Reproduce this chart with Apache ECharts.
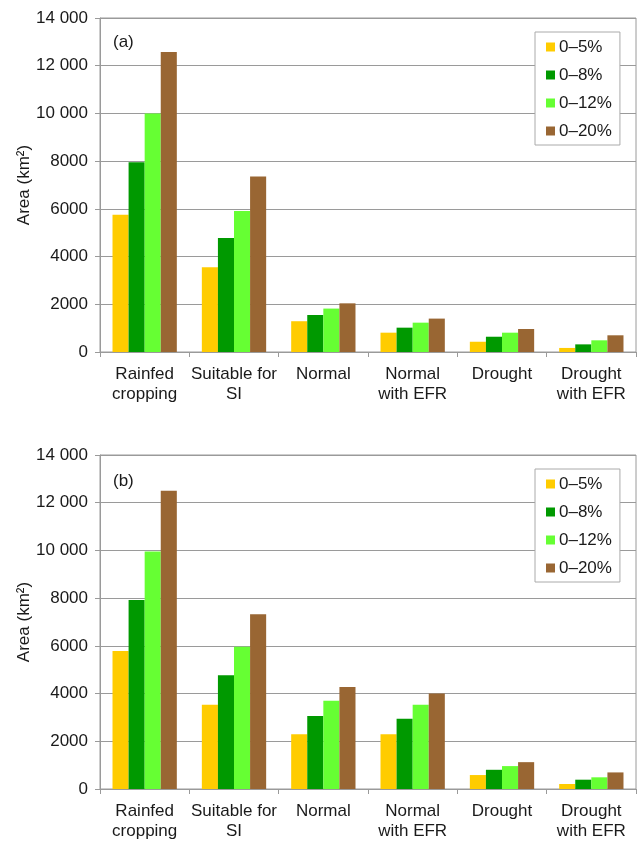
<!DOCTYPE html>
<html>
<head>
<meta charset="utf-8">
<script src="https://cdn.jsdelivr.net/npm/echarts@6/dist/echarts.min.js"></script>
<style>html,body{margin:0;padding:0;background:#fff;}#c{width:638px;height:841px;}</style>
</head>
<body>
<div id="c"></div>
<script>
const categories = ['Rainfed\ncropping', 'Suitable for\nSI', 'Normal', 'Normal\nwith EFR', 'Drought', 'Drought\nwith EFR'];
const seriesNames = ['0–5%', '0–8%', '0–12%', '0–20%'];
const colors = ['#FFCC00', '#009900', '#66FF33', '#996633'];
const yTicks = [0, 2000, 4000, 6000, 8000, 10000, 12000, 14000];

// Panel (a)
const a_5 = [5750, 3550, 1290, 810, 430, 170];
const a_8 = [7950, 4780, 1550, 1020, 640, 320];
const a_12 = [10000, 5910, 1820, 1230, 810, 490];
const a_20 = [12570, 7360, 2040, 1400, 965, 700];
// Panel (b)
const b_5 = [5780, 3530, 2300, 2290, 585, 210];
const b_8 = [7920, 4765, 3055, 2945, 805, 390];
const b_12 = [9950, 5960, 3695, 3530, 960, 490];
const b_20 = [12500, 7320, 4280, 4000, 1125, 695];

const panelA = [a_5, a_8, a_12, a_20];
const panelB = [b_5, b_8, b_12, b_20];

const FONT = 'Liberation Sans, Arial, sans-serif';
const TXT = '#1a1a1a';
const LINE = '#9a9a9a';

function fmt(v) {
  if (v >= 10000) { const s = String(v); return s.slice(0, s.length - 3) + ' ' + s.slice(-3); }
  return String(v);
}

function xAxis(i) {
  return {
    type: 'category', gridIndex: i, data: categories,
    axisLine: { lineStyle: { color: LINE, width: 1 } },
    axisTick: { show: true, length: 5, lineStyle: { color: LINE } },
    axisLabel: { color: TXT, fontFamily: FONT, fontSize: 17, lineHeight: 20, margin: 12, interval: 0 }
  };
}
function yAxis(i) {
  return {
    type: 'value', gridIndex: i, min: yTicks[0], max: yTicks[yTicks.length - 1], interval: 2000,
    name: 'Area (km²)', nameLocation: 'middle', nameGap: 67, nameMoveOverlap: false,
    nameTextStyle: { color: TXT, fontFamily: FONT, fontSize: 17 },
    axisLine: { show: true, lineStyle: { color: LINE } },
    axisTick: { show: true, length: 5, lineStyle: { color: LINE } },
    splitLine: { show: true, lineStyle: { color: LINE, width: 1 } },
    axisLabel: { color: TXT, fontFamily: FONT, fontSize: 17, margin: 12, formatter: fmt }
  };
}

const series = [];
[panelA, panelB].forEach((panel, gi) => {
  panel.forEach((vals, si) => {
    series.push({
      type: 'bar', name: seriesNames[si], xAxisIndex: gi, yAxisIndex: gi, data: vals,
      barGap: '0%', barCategoryGap: '28%',
      itemStyle: { color: colors[si] }
    });
  });
});

function legend(top) {
  return {
    orient: 'vertical', left: 535, top: top, data: seriesNames,
    itemWidth: 9, itemHeight: 9, itemGap: 8, icon: 'rect',
    padding: [5, 8, 4, 11],
    backgroundColor: '#fff', borderColor: '#aaaaaa', borderWidth: 1,
    textStyle: { color: TXT, fontFamily: FONT, fontSize: 17, lineHeight: 20, padding: [0, 0, 0, -1] }
  };
}

const chart = echarts.init(document.getElementById('c'), null, { renderer: 'canvas' });
chart.setOption({
  animation: false,
  backgroundColor: '#fff',
  title: [
    { text: '(a)', left: 113, top: 34, textStyle: { color: TXT, fontFamily: FONT, fontSize: 17, fontWeight: 'normal' }, padding: 0 },
    { text: '(b)', left: 113, top: 473, textStyle: { color: TXT, fontFamily: FONT, fontSize: 17, fontWeight: 'normal' }, padding: 0 }
  ],
  legend: [legend(32), legend(469)],
  grid: [
    { left: 100, top: 18, width: 536, height: 334, show: true, borderColor: LINE, borderWidth: 1 },
    { left: 100, top: 455, width: 536, height: 336, show: true, borderColor: LINE, borderWidth: 1 }
  ],
  xAxis: [xAxis(0), xAxis(1)],
  yAxis: [yAxis(0), yAxis(1)],
  series: series
});
</script>
</body>
</html>
